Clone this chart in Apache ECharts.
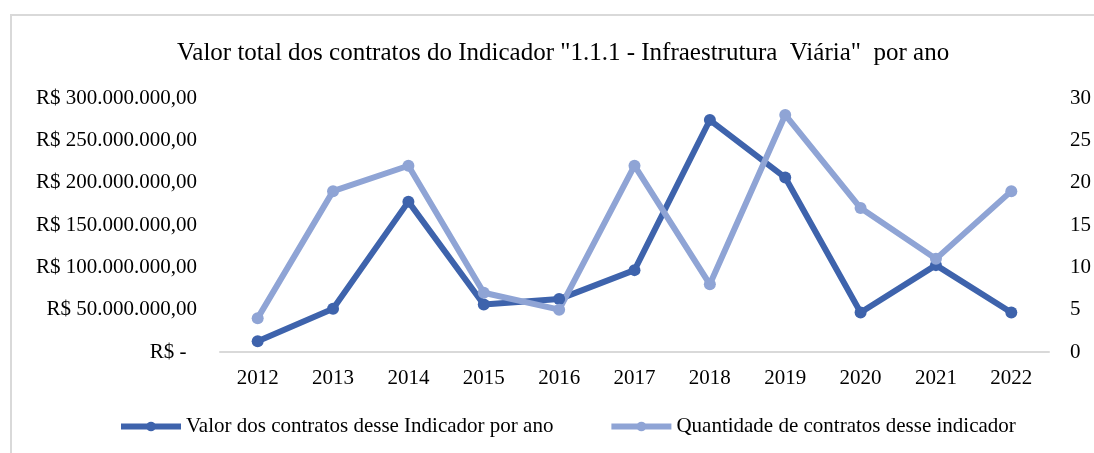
<!DOCTYPE html>
<html lang="pt">
<head>
    <meta charset="UTF-8">
    <title>Infraestrutura Viária</title>
    <script src="https://cdn.jsdelivr.net/npm/echarts@6/dist/echarts.min.js"></script>
    <style>
        body { margin: 0; background: #fff; }
        #frame { position: absolute; left: 10px; top: 14px; width: 1084px; height: 439px;
                 border-left: 2px solid #d9d9d9; border-top: 2px solid #d9d9d9; box-sizing: border-box; }
        #main { position: absolute; left: 0; top: 0; width: 1094px; height: 453px; }
    </style>
</head>
<body>
    <div id="frame"></div>
    <div id="main"></div>

<script>
// dados
var anos = ['2012', '2013', '2014', '2015', '2016', '2017', '2018', '2019', '2020', '2021', '2022'];
var valorContratos = [12700000, 51000000, 177600000, 56000000, 62500000, 96700000, 274000000, 206000000, 46600000, 102600000, 46600000];
var qtdContratos = [4, 19, 22, 7, 5, 22, 8, 28, 17, 11, 19];

var corEscura = '#3E63AC';
var corClara = '#8FA4D5';
var fonte = 'Liberation Serif';

function formatReal(v) {
    if (v === 0) return 'R$ -  ';
    var s = String(Math.round(v)).replace(/\B(?=(\d{3})+(?!\d))/g, '.');
    return 'R$ ' + s + ',00';
}

var myChart = echarts.init(document.getElementById('main'));

myChart.setOption({
    animation: false,
    textStyle: { fontFamily: fonte },
    title: {
        text: 'Valor total dos contratos do Indicador "1.1.1 - Infraestrutura  Viária"  por ano',
        left: 172,
        top: 36,
        textStyle: { fontFamily: fonte, fontSize: 25, fontWeight: 'normal', color: '#000' }
    },
    legend: {
        bottom: 11,
        left: 113,
        itemWidth: 60,
        itemHeight: 12,
        itemGap: 55,
        lineStyle: { width: 6 },
        textStyle: { fontFamily: fonte, fontSize: 21, color: '#000' },
        data: ['Valor dos contratos desse Indicador por ano', 'Quantidade de contratos desse indicador']
    },
    grid: { left: 220, right: 44, top: 98, bottom: 101 },
    xAxis: {
        type: 'category',
        data: anos,
        axisLine: { lineStyle: { color: '#d9d9d9', width: 2 } },
        axisTick: { show: false },
        axisLabel: { color: '#000', fontSize: 21, fontFamily: fonte, margin: 16 }
    },
    yAxis: [{
        type: 'value',
        min: 0,
        max: 300000000,
        interval: 50000000,
        splitLine: { show: false },
        axisLine: { show: false },
        axisTick: { show: false },
        axisLabel: { color: '#000', fontSize: 21, fontFamily: fonte, margin: 23, formatter: formatReal }
    }, {
        type: 'value',
        min: 0,
        max: 30,
        interval: 5,
        splitLine: { show: false },
        axisLine: { show: false },
        axisTick: { show: false },
        axisLabel: { color: '#000', fontSize: 21, fontFamily: fonte, margin: 21 }
    }],
    series: [{
        name: 'Valor dos contratos desse Indicador por ano',
        type: 'line',
        yAxisIndex: 0,
        data: valorContratos,
        symbol: 'circle',
        symbolSize: 12,
        lineStyle: { width: 6, color: corEscura },
        itemStyle: { color: corEscura }
    }, {
        name: 'Quantidade de contratos desse indicador',
        type: 'line',
        yAxisIndex: 1,
        data: qtdContratos,
        symbol: 'circle',
        symbolSize: 12,
        lineStyle: { width: 6, color: corClara },
        itemStyle: { color: corClara }
    }]
});
</script>
</body>
</html>
